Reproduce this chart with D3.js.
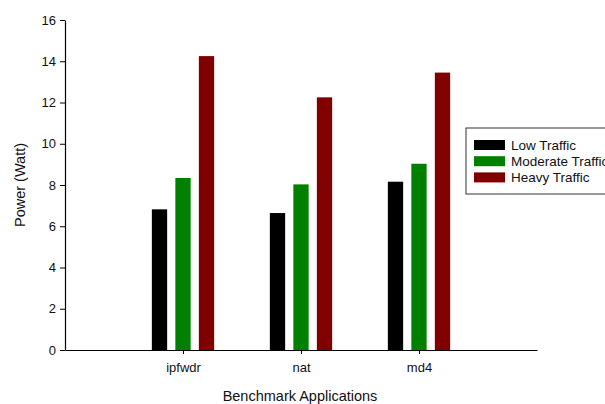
<!DOCTYPE html>
<html>
<head>
<meta charset="utf-8">
<script src="https://cdn.jsdelivr.net/npm/d3@7"></script>
<style>
  body { margin: 0; background: #fff; }
  text { font-family: "Liberation Sans", Arial, sans-serif; fill: #111; }
</style>
</head>
<body>
<div id="chart"></div>
<script>
// chart data
var categories = ["ipfwdr", "nat", "md4"];
var seriesNames = ["Low Traffic", "Moderate Traffic", "Heavy Traffic"];
var lowTraffic = [6.82, 6.64, 8.16];
var moderateTraffic = [8.34, 8.03, 9.03];
var heavyTraffic = [14.25, 12.25, 13.45];
var colors = ["#000000", "#008000", "#800000"];
var yTicks = [0, 2, 4, 6, 8, 10, 12, 14, 16];

var series = [lowTraffic, moderateTraffic, heavyTraffic];

var width = 605, height = 404;
var plotLeft = 65, plotRight = 537, plotTop = 20, plotBottom = 350;

var svg = d3.select("#chart").append("svg")
    .attr("width", width)
    .attr("height", height);

// y scale
var yScale = d3.scaleLinear().domain([0, 16]).range([plotBottom, plotTop]);

// x scale: categories sit at 1,2,3 on a 0..4 axis
var xScale = d3.scaleLinear().domain([0, 4]).range([plotLeft, plotRight]);

// offset of each bar inside a group
var barOffset = d3.scaleLinear().domain([0, 2]).range([-23.5, 23.5]);
var barWidth = 15.3;

// bars
series.forEach(function(values, s){
    svg.selectAll(".bar" + s)
        .data(values)
        .enter()
        .append("rect")
            .attr("class", "bar" + s)
            .attr("x", function(d, i){ return xScale(i + 1) + barOffset(s) - barWidth / 2; })
            .attr("y", function(d){ return yScale(d); })
            .attr("width", barWidth)
            .attr("height", function(d){ return plotBottom - yScale(d); })
            .attr("fill", colors[s]);
});

// y axis
var yAxis = d3.axisLeft(yScale).tickValues(yTicks).tickSize(5).tickSizeOuter(0).tickPadding(4);
var gy = svg.append("g")
    .attr("transform", "translate(" + plotLeft + ",0)")
    .call(yAxis);
gy.select(".domain").attr("stroke", "#000").attr("stroke-width", 1.2);
gy.selectAll("text").attr("font-size", "13px").attr("fill", "#111")
    .attr("font-family", "Liberation Sans, Arial, sans-serif");

// x axis
var xAxis = d3.axisBottom(xScale)
    .tickValues([1, 2, 3])
    .tickFormat(function(d){ return categories[d - 1]; })
    .tickSize(4).tickSizeOuter(0).tickPadding(9);
var gx = svg.append("g")
    .attr("transform", "translate(0," + plotBottom + ")")
    .call(xAxis);
gx.select(".domain").attr("stroke", "#000").attr("stroke-width", 1.2);
gx.selectAll("text").attr("font-size", "13px").attr("fill", "#111")
    .attr("font-family", "Liberation Sans, Arial, sans-serif");

// axis titles
svg.append("text")
    .attr("x", 300)
    .attr("y", 401)
    .attr("text-anchor", "middle")
    .attr("font-size", "14.5px")
    .text("Benchmark Applications");

svg.append("text")
    .attr("transform", "translate(25," + ((plotTop + plotBottom) / 2) + ") rotate(-90)")
    .attr("text-anchor", "middle")
    .attr("font-size", "14.5px")
    .text("Power (Watt)");

// legend
var legend = svg.append("g").attr("transform", "translate(466,128)");
legend.append("rect")
    .attr("width", 150).attr("height", 66)
    .attr("fill", "#fff").attr("stroke", "#333").attr("stroke-width", 1);
seriesNames.forEach(function(name, i){
    legend.append("rect")
        .attr("x", 8).attr("y", 12 + i * 16.2)
        .attr("width", 31).attr("height", 10)
        .attr("fill", colors[i]);
    legend.append("text")
        .attr("x", 45).attr("y", 21.5 + i * 16.2)
        .attr("font-size", "13.5px")
        .text(name);
});
</script>
</body>
</html>
